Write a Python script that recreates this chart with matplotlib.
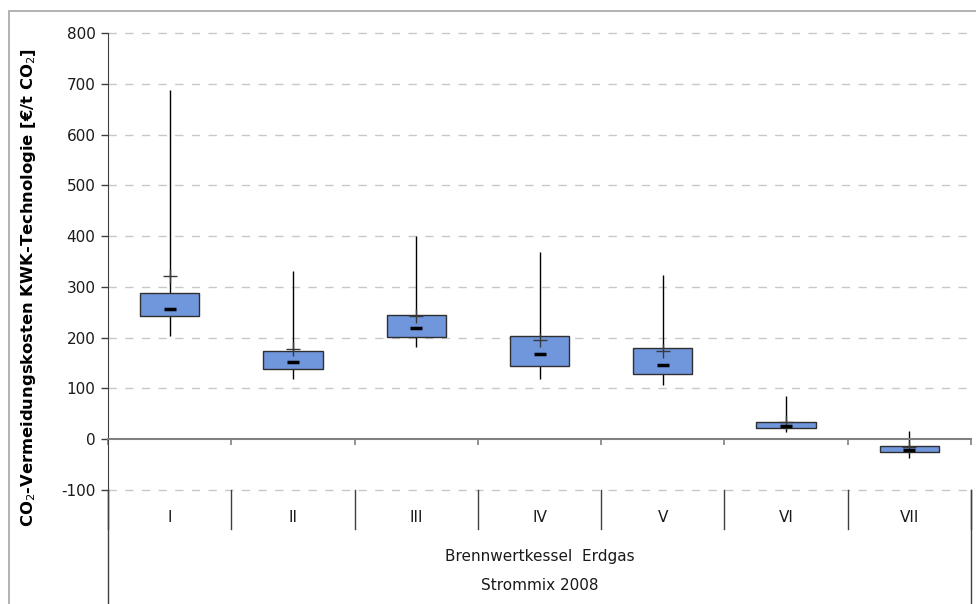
import matplotlib.pyplot as plt
from matplotlib.patches import Rectangle
from matplotlib.lines import Line2D

categories = ['I', 'II', 'III', 'IV', 'V', 'VI', 'VII']
whisker_high = [687, 332, 401, 368, 324, 85, 16]
box_top = [288, 174, 244, 204, 179, 33, -13]
medians = [257, 153, 219, 167, 147, 26, -21]
box_bottom = [242, 138, 202, 144, 128, 22, -26]
whisker_low = [204, 118, 181, 118, 106, 14, -37]
means = [322, 178, 243, 196, 173, 34, -16]
group_label = 'Brennwertkessel  Erdgas'
mix_label = 'Strommix 2008'
y_ticks = [-100, 0, 100, 200, 300, 400, 500, 600, 700, 800]

W, H = 976, 604
fig = plt.figure(figsize=(W / 100, H / 100), dpi=100)
ax = fig.add_axes([108 / W, (H - 490) / H, (971 - 108) / W, (490 - 33) / H])

# outer chart border (cut off at right and bottom)
fig.patches.append(Rectangle((9 / W, -0.1), 2, 1 - 11 / H + 0.1, transform=fig.transFigure,
                             fill=False, edgecolor='#a6a6a6', lw=1.2))

x = list(range(1, len(categories) + 1))

# dashed grid
for yv in y_ticks:
    if yv != 0:
        ax.axhline(yv, color='#c8c8c8', lw=1, ls=(0, (6, 6)), zorder=0, clip_on=False)

ax.vlines(x, whisker_low, whisker_high, color='black', lw=1, zorder=1)
heights = [t - b for t, b in zip(box_top, box_bottom)]
ax.bar(x, heights, bottom=box_bottom, width=0.48, color='#7096dc',
       edgecolor='#2f2f2f', lw=1, zorder=2)
ax.plot(x, means, ls='none', marker='+', markersize=10, mew=1.0, color='#3a3a3a', zorder=3)
ax.plot(x, medians, ls='none', marker='_', markersize=8, mew=2.5, color='black', zorder=4)

ax.set_xlim(0.5, len(categories) + 0.5)
ax.set_ylim(-100, 800)
ax.set_yticks(y_ticks)
ax.set_yticklabels([str(v) for v in y_ticks], fontsize=11, family='DejaVu Sans', color='#1a1a1a')
ax.tick_params(axis='y', direction='out', length=5, width=1, color='#404040', pad=4)

for s in ['top', 'right']:
    ax.spines[s].set_visible(False)
ax.spines['left'].set_color('#404040')
ax.spines['left'].set_bounds(-100, 800)
ax.spines['bottom'].set_position(('data', 0))
ax.spines['bottom'].set_color('#808080')
ax.spines['bottom'].set_linewidth(1.5)
ax.set_xticks([i + 0.5 for i in range(len(categories) + 1)])
ax.set_xticklabels([])
ax.tick_params(axis='x', direction='out', length=4, width=1.2, color='#808080')

ax.set_ylabel('CO$_2$-Vermeidungskosten KWK-Technologie [€/t CO$_2$]', fontsize=11.8,
              fontweight='bold', family='DejaVu Sans')
ax.yaxis.set_label_coords(-70 / 863, (490 - 287) / 457)

# multi-level category axis below the plot
trans = ax.get_xaxis_transform()
for i, c in enumerate(categories):
    ax.text(x[i], -27 / 457, c, transform=trans, ha='center', va='center',
            fontsize=11, family='DejaVu Sans', color='#1a1a1a')
for b in range(len(categories) + 1):
    ax.add_line(Line2D([b + 0.5, b + 0.5], [0, -39 / 457], transform=trans,
                       color='#404040', lw=1, clip_on=False))
ax.add_line(Line2D([0.5, 0.5], [0, -0.3], transform=trans, color='#404040', lw=1, clip_on=False))
ax.add_line(Line2D([7.5, 7.5], [0, -0.3], transform=trans, color='#404040', lw=1, clip_on=False))
ax.text(4, -67 / 457, group_label, transform=trans, ha='center', va='center',
        fontsize=11, family='DejaVu Sans', color='#1a1a1a')
ax.text(4, -95 / 457, mix_label, transform=trans, ha='center', va='center',
        fontsize=11, family='DejaVu Sans', color='#1a1a1a')

fig.savefig('out.png', dpi=100)
